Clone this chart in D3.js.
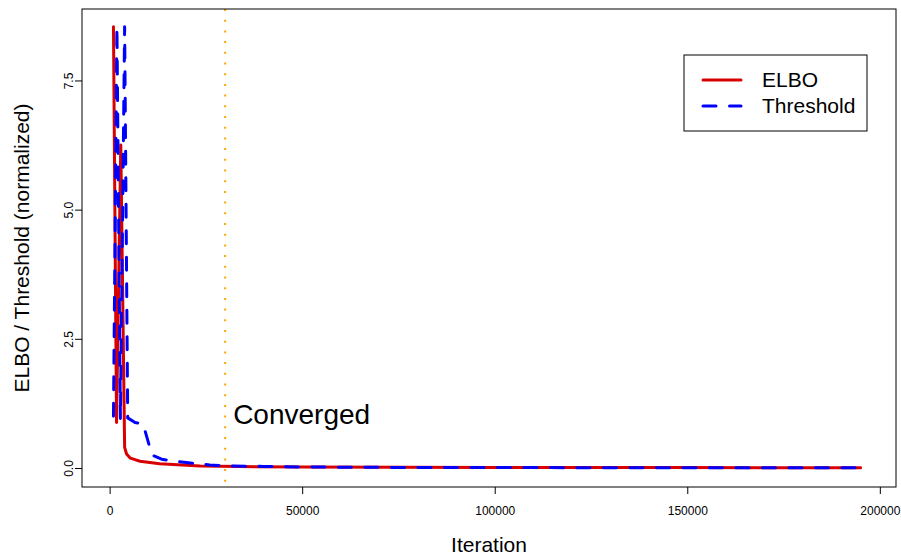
<!DOCTYPE html>
<html>
<head>
<meta charset="utf-8">
<script src="https://cdn.jsdelivr.net/npm/d3@7"></script>
<style>
body { margin: 0; background: #fff; }
text { font-family: "Liberation Sans", Arial, Helvetica, sans-serif; }
</style>
</head>
<body>
<script>
// data
var elboIter = [1000, 1800, 2900, 3900, 4400, 5400, 7900, 13000, 23500, 34000, 50000, 75000, 100000, 150000, 195000];
var elboVal  = [8.54, 0.88, 6.25, 0.40, 0.27, 0.19, 0.13, 0.08, 0.04, 0.028, 0.02, 0.013, 0.01, 0.007, 0.005];

var threshIter = [1000, 1900, 2800, 3900, 4700, 6600, 8700, 11000, 13500, 18000, 26000, 31000, 40000, 50000, 70000, 100000, 150000, 195000];
var threshVal  = [1.0, 8.54, 0.95, 8.54, 0.97, 0.88, 0.85, 0.25, 0.17, 0.12, 0.06, 0.04, 0.03, 0.02, 0.012, 0.008, 0.005, 0.003];

var convergedIter = 30000;
var xTicks = [0, 50000, 100000, 150000, 200000];
var yTicks = [0, 2.5, 5, 7.5];
var legendLabels = ["ELBO", "Threshold"];

var width = 901, height = 559;
var margin = {top: 9, right: 5, bottom: 72, left: 82};

var svg = d3.select("body").append("svg")
	.attr("width", width)
	.attr("height", height);

var x = d3.scaleLinear()
	.domain([-7170, 204200])
	.range([margin.left, width - margin.right]);

var y = d3.scaleLinear()
	.domain([-0.368, 8.883])
	.range([height - margin.bottom, margin.top]);

var elbo = elboIter.map(function (d, i) { return [d, elboVal[i]]; });
var thresh = threshIter.map(function (d, i) { return [d, threshVal[i]]; });

var line = d3.line()
	.x(function (d) { return x(d[0]); })
	.y(function (d) { return y(d[1]); });

// clip to the plot box
svg.append("clipPath").attr("id", "box")
	.append("rect")
	.attr("x", margin.left).attr("y", margin.top)
	.attr("width", width - margin.left - margin.right)
	.attr("height", height - margin.top - margin.bottom);

var plot = svg.append("g").attr("clip-path", "url(#box)");

plot.append("path")
	.datum(elbo)
	.attr("d", line)
	.attr("fill", "none")
	.attr("stroke", "#D90000")
	.attr("stroke-width", 3)
	.attr("stroke-linejoin", "round")
	.attr("stroke-linecap", "round");

plot.append("path")
	.datum(thresh)
	.attr("d", line)
	.attr("fill", "none")
	.attr("stroke", "#0000FF")
	.attr("stroke-width", 3)
	.attr("stroke-dasharray", "13,13.5")
	.attr("stroke-linejoin", "round")
	.attr("stroke-linecap", "round");

// convergence marker
plot.append("line")
	.attr("x1", x(convergedIter)).attr("x2", x(convergedIter))
	.attr("y1", margin.top).attr("y2", height - margin.bottom)
	.attr("stroke", "#FFA500")
	.attr("stroke-width", 2)
	.attr("stroke-dasharray", "2,8.7");

svg.append("text")
	.attr("x", x(convergedIter) + 8)
	.attr("y", y(1) - 2)
	.attr("dy", "0.35em")
	.attr("font-size", 28)
	.text("Converged");

// axes
var xAxis = svg.append("g")
	.attr("transform", "translate(0," + (height - margin.bottom) + ")")
	.call(d3.axisBottom(x).tickValues(xTicks).tickFormat(d3.format("d")).tickSize(7).tickPadding(12));

var yAxis = svg.append("g")
	.attr("transform", "translate(" + margin.left + ",0)")
	.call(d3.axisLeft(y).tickValues(yTicks).tickFormat(d3.format(".1f")).tickSize(7).tickPadding(0));

xAxis.select(".domain").remove();
yAxis.select(".domain").remove();
xAxis.selectAll("text").attr("font-size", 12).attr("font-family", "Liberation Sans, Arial, sans-serif");
yAxis.selectAll("text")
	.attr("font-size", 12)
	.attr("font-family", "Liberation Sans, Arial, sans-serif")
	.attr("text-anchor", "middle")
	.attr("x", null)
	.attr("dy", null)
	.attr("transform", "translate(-9,0) rotate(-90)");

// box
svg.append("rect")
	.attr("x", margin.left).attr("y", margin.top)
	.attr("width", width - margin.left - margin.right)
	.attr("height", height - margin.top - margin.bottom)
	.attr("fill", "none")
	.attr("stroke", "#000")
	.attr("stroke-width", 1);

// axis titles
svg.append("text")
	.attr("x", (margin.left + width - margin.right) / 2)
	.attr("y", 552)
	.attr("text-anchor", "middle")
	.attr("font-size", 21)
	.text("Iteration");

svg.append("text")
	.attr("transform", "translate(29," + ((margin.top + height - margin.bottom) / 2) + ") rotate(-90)")
	.attr("text-anchor", "middle")
	.attr("font-size", 21)
	.text("ELBO / Threshold (normalized)");

// legend
var legend = svg.append("g").attr("transform", "translate(684,55)");

legend.append("rect")
	.attr("width", 183).attr("height", 76)
	.attr("fill", "#fff")
	.attr("stroke", "#000");

legend.selectAll("line.key")
	.data(legendLabels)
	.enter()
	.append("line")
	.attr("class", "key")
	.attr("x1", 19).attr("x2", 57)
	.attr("y1", function (d, i) { return 25 + i * 26; })
	.attr("y2", function (d, i) { return 25 + i * 26; })
	.attr("stroke", function (d, i) { return i == 0 ? "#D90000" : "#0000FF"; })
	.attr("stroke-width", 3)
	.attr("stroke-linecap", "round")
	.attr("stroke-dasharray", function (d, i) { return i == 0 ? null : "13,13.5"; });

legend.selectAll("text")
	.data(legendLabels)
	.enter()
	.append("text")
	.attr("x", 78)
	.attr("y", function (d, i) { return 25 + i * 26; })
	.attr("dy", "0.35em")
	.attr("font-size", 21)
	.text(function (d) { return d; });
</script>
</body>
</html>
